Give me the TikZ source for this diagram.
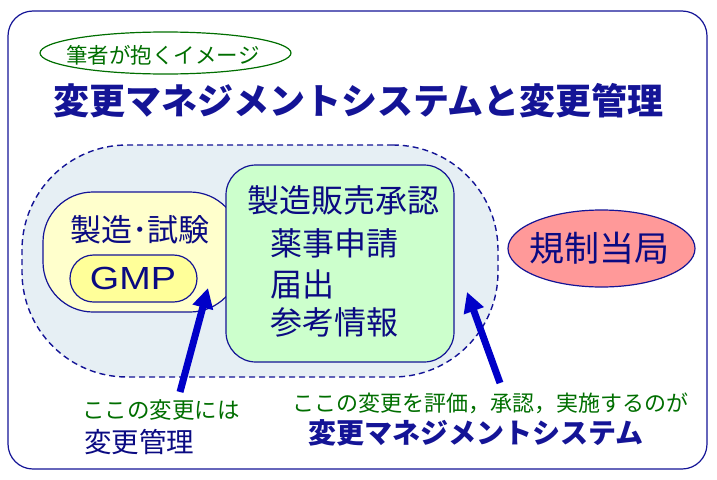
\documentclass[tikz,border=0pt]{standalone}
\usepackage{fontspec}
\newfontfamily\jp{Noto Sans CJK JP}
\newfontfamily\jph{Noto Sans CJK JP Black}
\newfontfamily\arial{Liberation Sans}
\usetikzlibrary{arrows.meta,shapes.geometric}
\definecolor{frame}{RGB}{20,20,150}
\definecolor{navy}{RGB}{10,10,130}
\definecolor{txtgreen}{RGB}{0,110,0}
\definecolor{arrblue}{RGB}{0,0,200}
\definecolor{dotbg}{RGB}{230,239,244}
\definecolor{yel}{RGB}{255,255,204}
\definecolor{gmpyel}{RGB}{255,255,153}
\definecolor{grn}{RGB}{204,255,204}
\definecolor{pinkfill}{RGB}{255,153,153}
\begin{document}
\begin{tikzpicture}[x=1pt,y=-1pt,
  box/.style={draw=frame,line width=1.2pt,inner sep=0pt},
  lbl/.style={inner sep=0pt,text=navy},
  glbl/.style={inner sep=0pt,text=txtgreen},
  bigarrow/.style={arrblue,line width=7pt,-{Triangle[length=20pt,width=20pt]}}]
\useasboundingbox (0,0) rectangle (717,479);
% outer frame
\node[box,rounded corners=25pt,minimum width=699pt,minimum height=458pt] (frame) at (357.5,240) {};
% header ellipse
\node[ellipse,draw=txtgreen,line width=1.2pt,minimum width=251pt,minimum height=42pt,inner sep=0pt] (note) at (165.5,53) {};
\node[glbl] (notetxt) at (163,55) {\jp\fontsize{21.5}{24}\selectfont 筆者が抱くイメージ};
% title
\node[lbl,text=frame] (title) at (358.5,101) {\jph\fontsize{36}{40}\selectfont 変更マネジメントシステムと変更管理};
% dashed system region
\node[draw=frame,line width=1.4pt,dash pattern=on 6pt off 4pt,fill=dotbg,rounded corners=105pt,minimum width=476pt,minimum height=232pt,inner sep=0pt] (sys) at (260,261) {};
% manufacturing box
\node[box,fill=yel,rounded corners=50pt,minimum width=197pt,minimum height=120pt] (mfg) at (141.5,252) {};
\node[lbl] (mfgtxt) at (140,230) {\jp\fontsize{31}{34}\selectfont 製造･試験};
\node[box,fill=gmpyel,rounded corners=23.5pt,minimum width=127pt,minimum height=47pt] (gmp) at (133.5,278.5) {};
\node[lbl] (gmptxt) at (133,278) {\arial\fontsize{32}{35}\selectfont\scalebox{1.18}[1]{GMP}};
% approval box
\node[box,fill=grn,rounded corners=30pt,minimum width=228pt,minimum height=197pt] (appr) at (340,263.5) {};
\node[lbl] (apprtxt) at (343.5,200) {\jp\fontsize{32}{35}\selectfont 製造販売承認};
\node[lbl,anchor=west] (l1) at (270,243) {\jp\fontsize{32}{35}\selectfont 薬事申請};
\node[lbl,anchor=west] (l2) at (270,284) {\jp\fontsize{32}{35}\selectfont 届出};
\node[lbl,anchor=west] (l3) at (270,322) {\jp\fontsize{32}{35}\selectfont 参考情報};
% regulator
\node[ellipse,draw=frame,line width=1.2pt,fill=pinkfill,minimum width=187pt,minimum height=77pt,inner sep=0pt] (reg) at (601.5,248.5) {};
\node[lbl] (regtxt) at (599,248) {\jp\fontsize{35}{38}\selectfont 規制当局};
% arrows
\coordinate (t1) at (180,392);
\coordinate (h1) at (208,288);
\coordinate (t2) at (500,383);
\coordinate (h2) at (467,292);
\draw[bigarrow] (t1) -- (h1);
\draw[bigarrow] (t2) -- (h2);
% bottom texts
\node[glbl,anchor=west] (c1) at (82,410) {\jp\fontsize{22.5}{25}\selectfont ここの変更には};
\node[lbl,anchor=west] (c2) at (84,442) {\jp\fontsize{27.5}{30}\selectfont 変更管理};
\node[glbl] (c3) at (490.5,403) {\jp\fontsize{22}{25}\selectfont ここの変更を評価，承認，実施するのが};
\node[lbl,text=frame] (c4) at (476,433) {\jph\fontsize{28}{31}\selectfont 変更マネジメントシステム};
\end{tikzpicture}
\end{document}
